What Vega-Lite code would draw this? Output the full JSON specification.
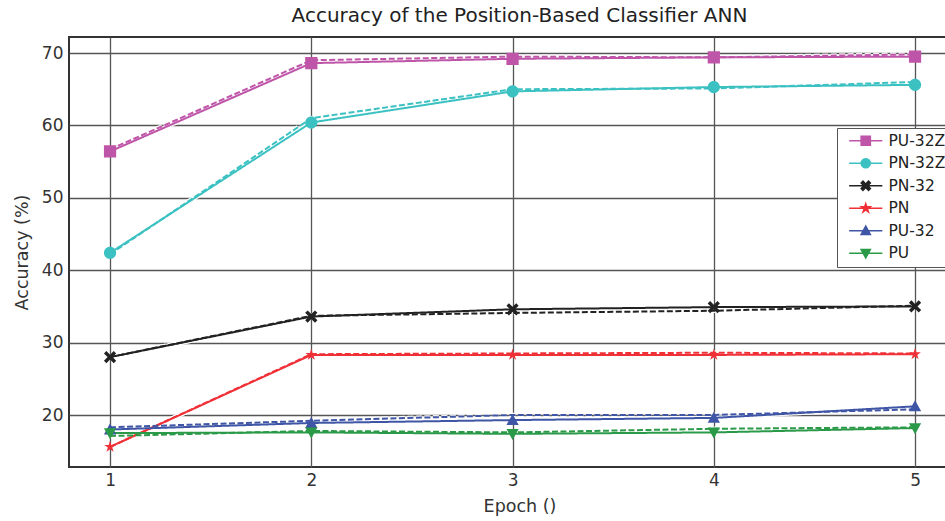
{
  "$schema": "https://vega.github.io/schema/vega-lite/v6.json",
  "autosize": "none",
  "width": 901,
  "height": 430,
  "padding": {"left": 69, "top": 37, "right": 0, "bottom": 54},
  "background": "white",
  "title": {"text": "Accuracy of the Position-Based Classifier ANN", "font": "DejaVu Sans", "fontSize": 20, "fontWeight": "normal", "color": "#222", "offset": 11},
  "config": {
    "font": "DejaVu Sans",
    "view": {"stroke": "#333", "strokeWidth": 2},
    "axis": {"grid": true, "gridColor": "#555", "gridWidth": 1.3, "domain": false, "ticks": false, "labelFontSize": 17, "labelColor": "#333", "titleFontSize": 17.5, "titleFontWeight": "normal", "titleColor": "#333", "labelFont": "DejaVu Sans", "titleFont": "DejaVu Sans"}
  },
  "data": {"values": [
    {"series": "PU-32Z", "style": "solid", "epoch": 1, "acc": 56.4},
    {"series": "PU-32Z", "style": "solid", "epoch": 2, "acc": 68.6},
    {"series": "PU-32Z", "style": "solid", "epoch": 3, "acc": 69.2},
    {"series": "PU-32Z", "style": "solid", "epoch": 4, "acc": 69.4},
    {"series": "PU-32Z", "style": "solid", "epoch": 5, "acc": 69.5},
    {"series": "PU-32Z", "style": "dashed", "epoch": 1, "acc": 56.7},
    {"series": "PU-32Z", "style": "dashed", "epoch": 2, "acc": 69.0},
    {"series": "PU-32Z", "style": "dashed", "epoch": 3, "acc": 69.5},
    {"series": "PU-32Z", "style": "dashed", "epoch": 4, "acc": 69.4},
    {"series": "PU-32Z", "style": "dashed", "epoch": 5, "acc": 69.8},
    {"series": "PN-32Z", "style": "solid", "epoch": 1, "acc": 42.4},
    {"series": "PN-32Z", "style": "solid", "epoch": 2, "acc": 60.4},
    {"series": "PN-32Z", "style": "solid", "epoch": 3, "acc": 64.7},
    {"series": "PN-32Z", "style": "solid", "epoch": 4, "acc": 65.3},
    {"series": "PN-32Z", "style": "solid", "epoch": 5, "acc": 65.6},
    {"series": "PN-32Z", "style": "dashed", "epoch": 1, "acc": 42.2},
    {"series": "PN-32Z", "style": "dashed", "epoch": 2, "acc": 61.0},
    {"series": "PN-32Z", "style": "dashed", "epoch": 3, "acc": 65.0},
    {"series": "PN-32Z", "style": "dashed", "epoch": 4, "acc": 65.1},
    {"series": "PN-32Z", "style": "dashed", "epoch": 5, "acc": 66.0},
    {"series": "PN-32", "style": "solid", "epoch": 1, "acc": 28.0},
    {"series": "PN-32", "style": "solid", "epoch": 2, "acc": 33.6},
    {"series": "PN-32", "style": "solid", "epoch": 3, "acc": 34.6},
    {"series": "PN-32", "style": "solid", "epoch": 4, "acc": 34.9},
    {"series": "PN-32", "style": "solid", "epoch": 5, "acc": 35.0},
    {"series": "PN-32", "style": "dashed", "epoch": 1, "acc": 28.0},
    {"series": "PN-32", "style": "dashed", "epoch": 2, "acc": 33.7},
    {"series": "PN-32", "style": "dashed", "epoch": 3, "acc": 34.1},
    {"series": "PN-32", "style": "dashed", "epoch": 4, "acc": 34.4},
    {"series": "PN-32", "style": "dashed", "epoch": 5, "acc": 35.1},
    {"series": "PN", "style": "solid", "epoch": 1, "acc": 15.6},
    {"series": "PN", "style": "solid", "epoch": 2, "acc": 28.3},
    {"series": "PN", "style": "solid", "epoch": 3, "acc": 28.3},
    {"series": "PN", "style": "solid", "epoch": 4, "acc": 28.3},
    {"series": "PN", "style": "solid", "epoch": 5, "acc": 28.4},
    {"series": "PN", "style": "dashed", "epoch": 1, "acc": 15.6},
    {"series": "PN", "style": "dashed", "epoch": 2, "acc": 28.4},
    {"series": "PN", "style": "dashed", "epoch": 3, "acc": 28.5},
    {"series": "PN", "style": "dashed", "epoch": 4, "acc": 28.6},
    {"series": "PN", "style": "dashed", "epoch": 5, "acc": 28.5},
    {"series": "PU-32", "style": "solid", "epoch": 1, "acc": 18.0},
    {"series": "PU-32", "style": "solid", "epoch": 2, "acc": 18.9},
    {"series": "PU-32", "style": "solid", "epoch": 3, "acc": 19.3},
    {"series": "PU-32", "style": "solid", "epoch": 4, "acc": 19.6},
    {"series": "PU-32", "style": "solid", "epoch": 5, "acc": 21.2},
    {"series": "PU-32", "style": "dashed", "epoch": 1, "acc": 18.3},
    {"series": "PU-32", "style": "dashed", "epoch": 2, "acc": 19.2},
    {"series": "PU-32", "style": "dashed", "epoch": 3, "acc": 20.0},
    {"series": "PU-32", "style": "dashed", "epoch": 4, "acc": 20.0},
    {"series": "PU-32", "style": "dashed", "epoch": 5, "acc": 20.8},
    {"series": "PU", "style": "solid", "epoch": 1, "acc": 17.5},
    {"series": "PU", "style": "solid", "epoch": 2, "acc": 17.6},
    {"series": "PU", "style": "solid", "epoch": 3, "acc": 17.4},
    {"series": "PU", "style": "solid", "epoch": 4, "acc": 17.6},
    {"series": "PU", "style": "solid", "epoch": 5, "acc": 18.2},
    {"series": "PU", "style": "dashed", "epoch": 1, "acc": 17.1},
    {"series": "PU", "style": "dashed", "epoch": 2, "acc": 17.8},
    {"series": "PU", "style": "dashed", "epoch": 3, "acc": 17.6},
    {"series": "PU", "style": "dashed", "epoch": 4, "acc": 18.1},
    {"series": "PU", "style": "dashed", "epoch": 5, "acc": 18.3}
  ]},
  "encoding": {
    "x": {"field": "epoch", "type": "quantitative", "title": "Epoch ()", "scale": {"domain": [0.796, 5.273], "nice": false, "zero": false}, "axis": {"values": [1, 2, 3, 4, 5], "format": "d", "labelPadding": 5, "titlePadding": 9}},
    "y": {"field": "acc", "type": "quantitative", "title": "Accuracy (%)", "scale": {"domain": [12.82, 72.21], "nice": false, "zero": false}, "axis": {"values": [20, 30, 40, 50, 60, 70], "labelPadding": 6, "titlePadding": 10}}
  },
  "layer": [
    {
      "mark": {"type": "line", "color": "white", "strokeWidth": 4.5, "opacity": 0.9},
      "encoding": {
        "detail": {"field": "series"},
        "strokeDash": {"field": "style", "type": "nominal", "scale": {"domain": ["solid", "dashed"], "range": [[1, 0], [6, 2.5]]}, "legend": null},
        "order": {"field": "epoch"}
      }
    },
    {
      "mark": {"type": "line", "strokeWidth": 2},
      "encoding": {
        "color": {"field": "series", "type": "nominal"},
        "detail": {"field": "style"},
        "strokeDash": {"field": "style", "type": "nominal", "legend": null},
        "order": {"field": "epoch"}
      }
    },
    {
      "transform": [{"filter": "datum.style === 'solid'"}],
      "mark": {"type": "point", "filled": true, "opacity": 1, "size": 150},
      "encoding": {
        "color": {
          "field": "series", "type": "nominal",
          "scale": {"domain": ["PU-32Z", "PN-32Z", "PN-32", "PN", "PU-32", "PU"], "range": ["#bf55a8", "#3cc1c2", "#222222", "#f03037", "#3f55a5", "#2b9a48"]},
          "legend": {
            "title": null, "orient": "none", "legendX": 768, "legendY": 91,
            "fillColor": "white", "strokeColor": "#555", "padding": 5,
            "symbolSize": 85, "symbolOffset": 16, "labelOffset": 15, "labelFontSize": 15.5, "labelColor": "#222",
            "rowPadding": 5.5,
            "encode": {"symbols": {"update": {"fill": {"scale": "color", "field": "value"}, "stroke": {"scale": "color", "field": "value"}, "strokeWidth": {"value": 2}, "opacity": {"value": 1}}}}
          }
        },
        "shape": {
          "field": "series", "type": "nominal",
          "scale": {"domain": ["PU-32Z", "PN-32Z", "PN-32", "PN", "PU-32", "PU"], "range": [
            "M-1,-1H1V1H-1Z M-3.6,0H3.6",
            "M1,0A1,1,0,1,1,-1,0A1,1,0,1,1,1,0Z M-3.6,0H3.6",
            "M-1,-0.6L-0.6,-1L0,-0.4L0.6,-1L1,-0.6L0.4,0L1,0.6L0.6,1L0,0.4L-0.6,1L-1,0.6L-0.4,0Z M-3.6,0H3.6",
            "M0,-1L0.225,-0.309L0.951,-0.309L0.363,0.118L0.588,0.809L0,0.382L-0.588,0.809L-0.363,0.118L-0.951,-0.309L-0.225,-0.309Z M-3.6,0H3.6",
            "M0,-1L1,0.8L-1,0.8Z M-3.6,0H3.6",
            "M0,1L1,-0.8L-1,-0.8Z M-3.6,0H3.6"
          ]}
        }
      }
    }
  ]
}
